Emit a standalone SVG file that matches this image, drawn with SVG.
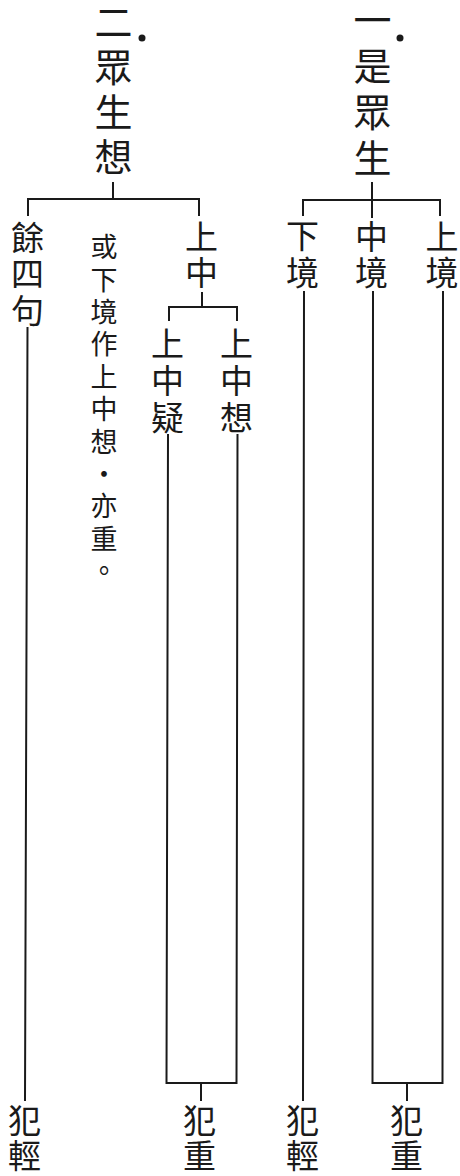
<svg xmlns="http://www.w3.org/2000/svg" width="460" height="1176" viewBox="0 0 460 1176">
<style>
.t{font-family:"Liberation Sans","Noto Sans CJK TC","Noto Sans CJK SC",sans-serif;fill:#1a1a1a;writing-mode:vertical-rl;text-orientation:upright}
.h{font-size:38px}
.l{font-size:33px}
.s{font-size:27px;letter-spacing:5.4px}
.c line,.c path{stroke:#1a1a1a;stroke-width:2;fill:none;stroke-linecap:square}
</style>
<rect width="460" height="1176" fill="#fff"/>
<g class="c" id="connectors">
<path d="M113 183V199M28 215V199H199V215"/>
<path d="M202 293V307M169 320V307H237V320"/>
<path d="M372 183V217M303 215V200H440V215"/>
<line x1="27.5" y1="328" x2="25" y2="1100"/>
<path d="M168 435L166.5 1083H236.5L237.5 435M201 1083V1100"/>
<line x1="304" y1="292" x2="303" y2="1100"/>
<path d="M373 292L372.5 1083H442.5L443 292M407 1083V1100"/>
</g>
<g id="title-2">
<text class="t h" x="110" y="3" style="letter-spacing:6.7px">二眾生想</text>
<circle cx="142" cy="38" r="3.5" fill="#1a1a1a"/>
</g>
<g id="title-1">
<text class="t h" x="369" y="1" style="letter-spacing:8px">一是眾生</text>
<circle cx="400" cy="38" r="3.5" fill="#1a1a1a"/>
</g>
<g id="yu-si-ju"><text class="t l" x="25" y="220.5" style="letter-spacing:3.5px">餘四句</text></g>
<g id="note"><text class="t s" x="101.5" y="233.5">或下境作上中想・亦重。</text></g>
<g id="shang-zhong"><text class="t l" x="199" y="219.5" style="letter-spacing:3px">上中</text></g>
<g id="shang-zhong-yi"><text class="t l" x="165" y="326.5" style="letter-spacing:4px">上中疑</text></g>
<g id="shang-zhong-xiang"><text class="t l" x="234" y="326.5" style="letter-spacing:4px">上中想</text></g>
<g id="xia-jing"><text class="t l" x="300" y="218.5" style="letter-spacing:4px">下境</text></g>
<g id="zhong-jing"><text class="t l" x="369" y="219.5" style="letter-spacing:3px">中境</text></g>
<g id="shang-jing"><text class="t l" x="439.5" y="219.5" style="letter-spacing:3px">上境</text></g>
<g id="fan-qing-1"><text class="t l" x="22" y="1103.5" style="letter-spacing:2px">犯輕</text></g>
<g id="fan-zhong-1"><text class="t l" x="197" y="1103.5" style="letter-spacing:2px">犯重</text></g>
<g id="fan-qing-2"><text class="t l" x="300" y="1103.5" style="letter-spacing:2px">犯輕</text></g>
<g id="fan-zhong-2"><text class="t l" x="404" y="1103.5" style="letter-spacing:2px">犯重</text></g>
</svg>
